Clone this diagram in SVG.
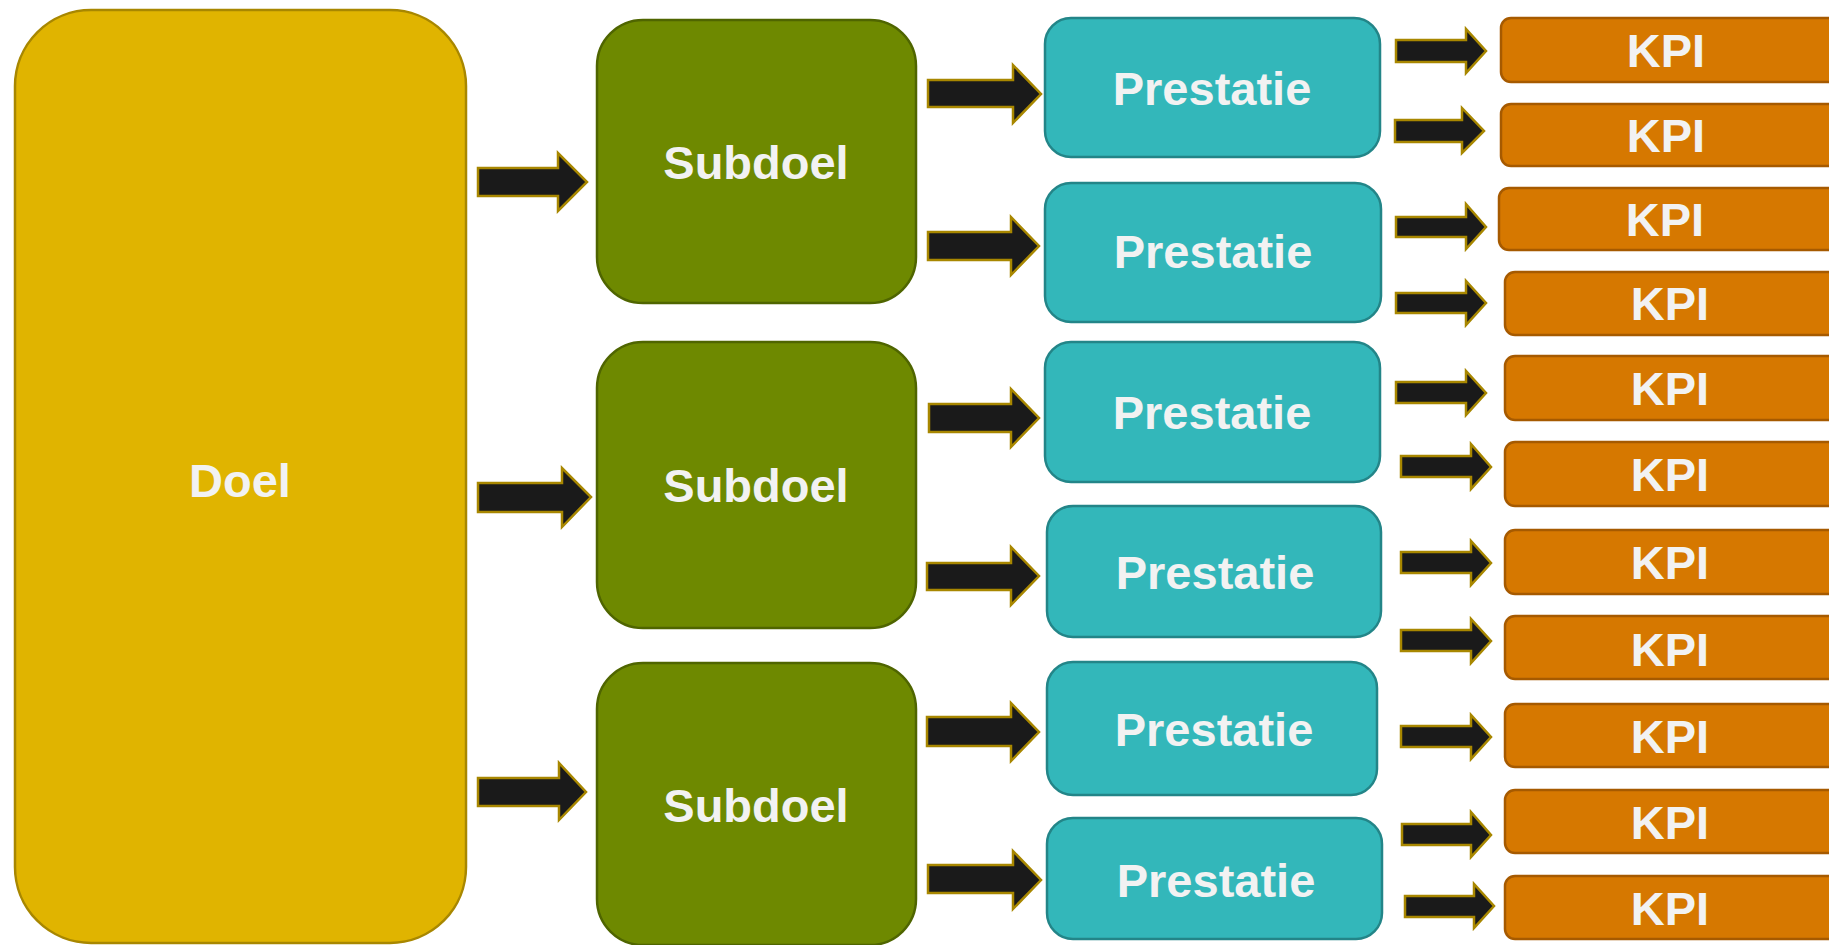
<svg xmlns="http://www.w3.org/2000/svg" width="1829" height="945" viewBox="0 0 1829 945">
<style>
.doel{fill:#E0B400;stroke:#A88700;stroke-width:2.5}
.sub{fill:#6E8900;stroke:#4F6500;stroke-width:2.5}
.pre{fill:#33B7BA;stroke:#238588;stroke-width:2.5}
.kpi{fill:#D67800;stroke:#A65A00;stroke-width:2.5}
.arr{fill:#1A1A1A;stroke:#A88700;stroke-width:2.5;stroke-linejoin:miter}
.t{font-family:"Liberation Sans",Arial,sans-serif;font-weight:bold;fill:#F2F2F2;text-anchor:middle;font-size:47px}
</style>
<rect width="1829" height="945" fill="#FFFFFF"/>
<g id="doel"><rect class="doel" x="15" y="10" width="451" height="933" rx="76" ry="76"/><text class="t" x="240" y="497">Doel</text></g>
<g id="subdoel1"><rect class="sub" x="597" y="20" width="319" height="283" rx="46" ry="46"/><text class="t" x="756" y="179">Subdoel</text></g>
<g id="subdoel2"><rect class="sub" x="597" y="342" width="319" height="286" rx="46" ry="46"/><text class="t" x="756" y="502">Subdoel</text></g>
<g id="subdoel3"><rect class="sub" x="597" y="663" width="319" height="282" rx="46" ry="46"/><text class="t" x="756" y="822">Subdoel</text></g>
<g id="prestatie1"><rect class="pre" x="1045" y="18" width="335" height="139" rx="26" ry="26"/><text class="t" x="1212" y="105">Prestatie</text></g>
<g id="prestatie2"><rect class="pre" x="1045" y="183" width="336" height="139" rx="26" ry="26"/><text class="t" x="1213" y="268">Prestatie</text></g>
<g id="prestatie3"><rect class="pre" x="1045" y="342" width="335" height="140" rx="26" ry="26"/><text class="t" x="1212" y="429">Prestatie</text></g>
<g id="prestatie4"><rect class="pre" x="1047" y="506" width="334" height="131" rx="26" ry="26"/><text class="t" x="1215" y="589">Prestatie</text></g>
<g id="prestatie5"><rect class="pre" x="1047" y="662" width="330" height="133" rx="26" ry="26"/><text class="t" x="1214" y="746">Prestatie</text></g>
<g id="prestatie6"><rect class="pre" x="1047" y="818" width="335" height="121" rx="26" ry="26"/><text class="t" x="1216" y="897">Prestatie</text></g>
<g id="kpi1"><rect class="kpi" x="1501" y="18" width="340" height="64" rx="10" ry="10"/><text class="t" x="1666" y="67">KPI</text></g>
<g id="kpi2"><rect class="kpi" x="1501" y="104" width="340" height="62" rx="10" ry="10"/><text class="t" x="1666" y="152">KPI</text></g>
<g id="kpi3"><rect class="kpi" x="1499" y="188" width="340" height="62" rx="10" ry="10"/><text class="t" x="1665" y="236">KPI</text></g>
<g id="kpi4"><rect class="kpi" x="1505" y="272" width="340" height="63" rx="10" ry="10"/><text class="t" x="1670" y="320">KPI</text></g>
<g id="kpi5"><rect class="kpi" x="1505" y="356" width="340" height="64" rx="10" ry="10"/><text class="t" x="1670" y="405">KPI</text></g>
<g id="kpi6"><rect class="kpi" x="1505" y="442" width="340" height="64" rx="10" ry="10"/><text class="t" x="1670" y="491">KPI</text></g>
<g id="kpi7"><rect class="kpi" x="1505" y="530" width="340" height="64" rx="10" ry="10"/><text class="t" x="1670" y="579">KPI</text></g>
<g id="kpi8"><rect class="kpi" x="1505" y="616" width="340" height="63" rx="10" ry="10"/><text class="t" x="1670" y="666">KPI</text></g>
<g id="kpi9"><rect class="kpi" x="1505" y="704" width="340" height="63" rx="10" ry="10"/><text class="t" x="1670" y="753">KPI</text></g>
<g id="kpi10"><rect class="kpi" x="1505" y="790" width="340" height="63" rx="10" ry="10"/><text class="t" x="1670" y="839">KPI</text></g>
<g id="kpi11"><rect class="kpi" x="1505" y="876" width="340" height="63" rx="10" ry="10"/><text class="t" x="1670" y="925">KPI</text></g>
<g id="connectors">
<polygon class="arr" points="478,168 558,168 558,153 587,182 558,211 558,196 478,196"/>
<polygon class="arr" points="478,483 562,483 562,468 591,497 562,527 562,512 478,512"/>
<polygon class="arr" points="478,778 559,778 559,763 586,792 559,820 559,806 478,806"/>
<polygon class="arr" points="928,80 1013,80 1013,65 1041,94 1013,123 1013,107 928,107"/>
<polygon class="arr" points="928,232 1011,232 1011,217 1039,246 1011,275 1011,260 928,260"/>
<polygon class="arr" points="929,404 1011,404 1011,389 1039,418 1011,447 1011,432 929,432"/>
<polygon class="arr" points="927,563 1011,563 1011,547 1039,576 1011,605 1011,590 927,590"/>
<polygon class="arr" points="927,717 1011,717 1011,703 1039,732 1011,761 1011,746 927,746"/>
<polygon class="arr" points="928,865 1013,865 1013,851 1041,880 1013,909 1013,893 928,893"/>
<polygon class="arr" points="1396,40 1466,40 1466,29 1486,51 1466,73 1466,62 1396,62"/>
<polygon class="arr" points="1395,120 1462,120 1462,108 1484,131 1462,153 1462,142 1395,142"/>
<polygon class="arr" points="1396,217 1466,217 1466,204 1486,227 1466,249 1466,237 1396,237"/>
<polygon class="arr" points="1396,293 1466,293 1466,281 1486,303 1466,325 1466,313 1396,313"/>
<polygon class="arr" points="1396,382 1466,382 1466,371 1486,393 1466,415 1466,403 1396,403"/>
<polygon class="arr" points="1401,456 1471,456 1471,444 1491,467 1471,489 1471,477 1401,477"/>
<polygon class="arr" points="1401,552 1471,552 1471,541 1491,563 1471,585 1471,573 1401,573"/>
<polygon class="arr" points="1401,630 1471,630 1471,619 1491,641 1471,663 1471,651 1401,651"/>
<polygon class="arr" points="1401,726 1471,726 1471,715 1491,737 1471,759 1471,747 1401,747"/>
<polygon class="arr" points="1402,824 1471,824 1471,812 1491,835 1471,857 1471,845 1402,845"/>
<polygon class="arr" points="1405,896 1474,896 1474,884 1494,906 1474,928 1474,917 1405,917"/>
</g>
</svg>
